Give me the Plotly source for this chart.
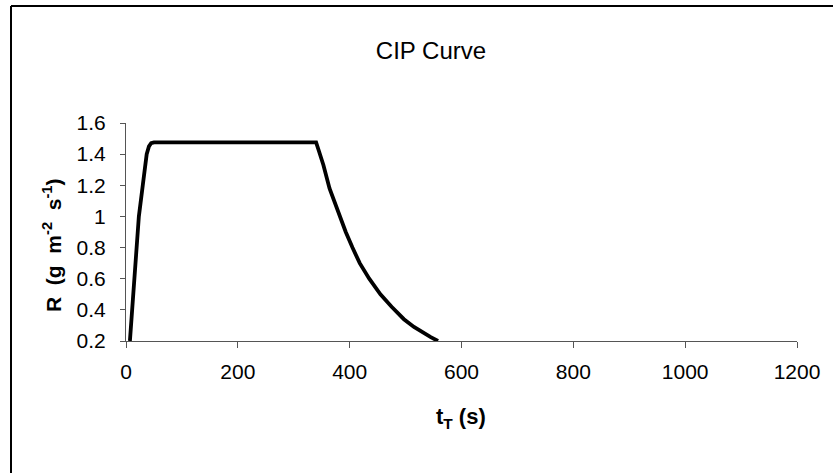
import plotly.graph_objects as go

# Data
t_seconds = [7, 10, 13, 15, 19, 23, 30, 37, 41, 45, 50, 100, 200, 300, 340,
             345, 353, 364, 371, 383, 393, 405, 418, 435, 455, 475, 497, 515, 530, 545, 558]
rate = [0.2, 0.35, 0.46, 0.6, 0.8, 1.0, 1.2, 1.4, 1.45, 1.47, 1.475, 1.475, 1.475, 1.475, 1.475,
        1.42, 1.33, 1.18, 1.11, 1.0, 0.9, 0.8, 0.70, 0.60, 0.50, 0.42, 0.34, 0.29, 0.255, 0.225, 0.2]

x_ticks = [0, 200, 400, 600, 800, 1000, 1200]
y_ticks = [0.2, 0.4, 0.6, 0.8, 1.0, 1.2, 1.4, 1.6]
y_tick_labels = ["0.2", "0.4", "0.6", "0.8", "1", "1.2", "1.4", "1.6"]

W, H = 833, 473
L, R, T, B = 126, 36, 123, 132
pw, ph = W - L - R, H - T - B

def px(xp):
    return (xp - L) / pw

def py(yp):
    return (H - B - yp) / ph

tick_font = dict(family="Liberation Sans, Arial", size=21, color="#000")
axis_col = "#555555"
NB = "\u00a0"

fig = go.Figure()
fig.add_trace(go.Scatter(x=t_seconds, y=rate, mode="lines",
                         line=dict(color="black", width=3.8), showlegend=False))

fig.update_layout(
    width=W, height=H,
    margin=dict(l=L, r=R, t=T, b=B),
    paper_bgcolor="white", plot_bgcolor="white",
    title=dict(text="CIP Curve", x=px(431), xref="paper", xanchor="center",
               y=1 - 51 / H, yref="container", yanchor="middle",
               font=dict(family="Liberation Sans, Arial", size=24, color="#000")),
    xaxis=dict(range=[0, 1200], tickvals=x_ticks, ticktext=[str(v) for v in x_ticks],
               showgrid=False, zeroline=False, showline=True, linecolor=axis_col, linewidth=1,
               ticks="outside", ticklen=6, tickcolor=axis_col, tickfont=tick_font,
               ticklabelstandoff=6),
    yaxis=dict(range=[0.2, 1.6], tickvals=y_ticks, ticktext=y_tick_labels,
               showgrid=False, zeroline=False, showline=True, linecolor=axis_col, linewidth=1,
               ticks="outside", ticklen=5, tickcolor=axis_col, tickfont=tick_font,
               ticklabelstandoff=10),
    annotations=[
        dict(text="<b>R" + NB * 2 + "(g" + NB * 2 + "m<sup>-2</sup>" + NB * 2 + "s<sup>-1</sup>)</b>",
             xref="paper", yref="paper",
             x=px(52), y=py(246), textangle=-90, showarrow=False,
             xanchor="center", yanchor="middle",
             font=dict(family="Liberation Sans, Arial", size=21, color="#000")),
        dict(text="<b>t<sub>T</sub> (s)</b>", xref="paper", yref="paper",
             x=px(461), y=py(418), showarrow=False, xanchor="center", yanchor="middle",
             font=dict(family="Liberation Sans, Arial", size=22, color="#000")),
    ],
    shapes=[
        dict(type="line", xref="paper", yref="paper", x0=px(11), x1=px(833), y0=py(6), y1=py(6),
             line=dict(color="black", width=2)),
        dict(type="line", xref="paper", yref="paper", x0=px(11), x1=px(11), y0=py(6), y1=py(473),
             line=dict(color="black", width=2)),
    ],
)

fig.write_html("out.html")
